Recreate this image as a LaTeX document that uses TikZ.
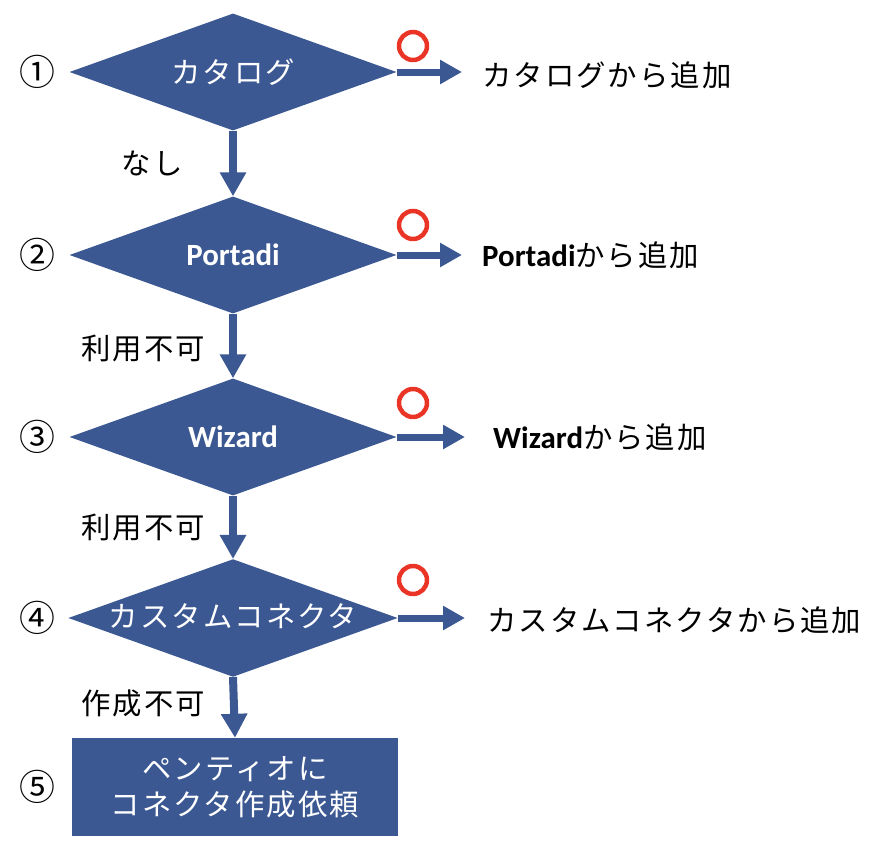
\documentclass[tikz,border=0pt]{standalone}
\usepackage{fontspec}
\setmainfont{Noto Sans CJK JP}[LetterSpace=7]
\newfontfamily\latinfont{Carlito}
\usetikzlibrary{shapes.geometric,arrows.meta}
\definecolor{flowblue}{RGB}{59,88,146}
\definecolor{okred}{RGB}{234,52,38}
\begin{document}
\begin{tikzpicture}[x=1bp,y=-1bp,line join=round,
	check/.style={shape=diamond,fill=flowblue,text=white,aspect=2.8,inner sep=0pt,minimum width=327bp,minimum height=117bp,font=\fontsize{29.5}{32}\selectfont},
	task/.style={rectangle,fill=flowblue,text=white,align=center,minimum width=325bp,minimum height=98bp,font=\fontsize{29.5}{36}\selectfont},
	result/.style={anchor=west,inner xsep=20bp,inner ysep=0pt,font=\fontsize{29.5}{32}\selectfont},
	note/.style={font=\fontsize{29.5}{32}\selectfont},
	okmark/.style={circle,draw=okred,line width=4.5bp,minimum size=28bp,inner sep=0pt},
	down/.style={draw=flowblue,line width=8bp,-{Triangle[width=25bp,length=24bp]}},
	side/.style={draw=flowblue,line width=7bp,-{Triangle[width=23bp,length=22bp]}}]
	\useasboundingbox (0,0) rectangle (888,850);
	\def \cx{233}
	% decisions
	\node[check] (cat) at (\cx,72) {カタログ};
	\node[check] (port) at (\cx,255) {\latinfont\bfseries\fontsize{31}{32}\selectfont Portadi};
	\node[check] (wiz) at (\cx,437) {\latinfont\bfseries\fontsize{31}{32}\selectfont Wizard};
	\node[check] (cust) at (\cx,618) {\raisebox{5bp}{カスタムコネクタ}};
	\node[task] (req) at (235,787) {ペンティオに\\コネクタ作成依頼};
	% step numbers
	\foreach \n/\y in {①/72,②/255,③/437,④/618,⑤/787}
		\node[note,font=\fontsize{36}{36}\selectfont] at (37,\y) {\n};
	% results
	\node[result] (rcat) at (462,75) {カタログから追加};
	\node[result] (rport) at (462,255) {{\latinfont\bfseries\fontsize{31}{32}\selectfont Portadi}から追加};
	\node[result,inner xsep=28bp] (rwiz) at (465,437) {{\latinfont\bfseries\fontsize{31}{32}\selectfont Wizard}から追加};
	\node[result,inner xsep=22bp] (rcust) at (465,620) {カスタムコネクタから追加};
	\draw[side] (cat.east) -- (cat.east -| rcat.west);
	\draw[side] (port.east) -- (port.east -| rport.west);
	\draw[side] (wiz.east) -- (wiz.east -| rwiz.west);
	\draw[side] (cust.east) -- (cust.east -| rcust.west);
	\node[okmark] (ok1) at (413,46) {};
	\node[okmark] (ok2) at (413,225) {};
	\node[okmark] (ok3) at (413,403) {};
	\node[okmark] (ok4) at (413,580) {};
	% flow down
	\draw[down] (cat.south) -- (port.north);
	\draw[down] (port.south) -- (wiz.north);
	\draw[down] (wiz.south) -- (cust.north);
	\draw[down] (cust.south) -- (req.north);
	\node[note] (l1) at (152,163) {なし};
	\node[note] (l2) at (143,348) {利用不可};
	\node[note] (l3) at (143,527) {利用不可};
	\node[note] (l4) at (143,703) {作成不可};
\end{tikzpicture}
\end{document}
